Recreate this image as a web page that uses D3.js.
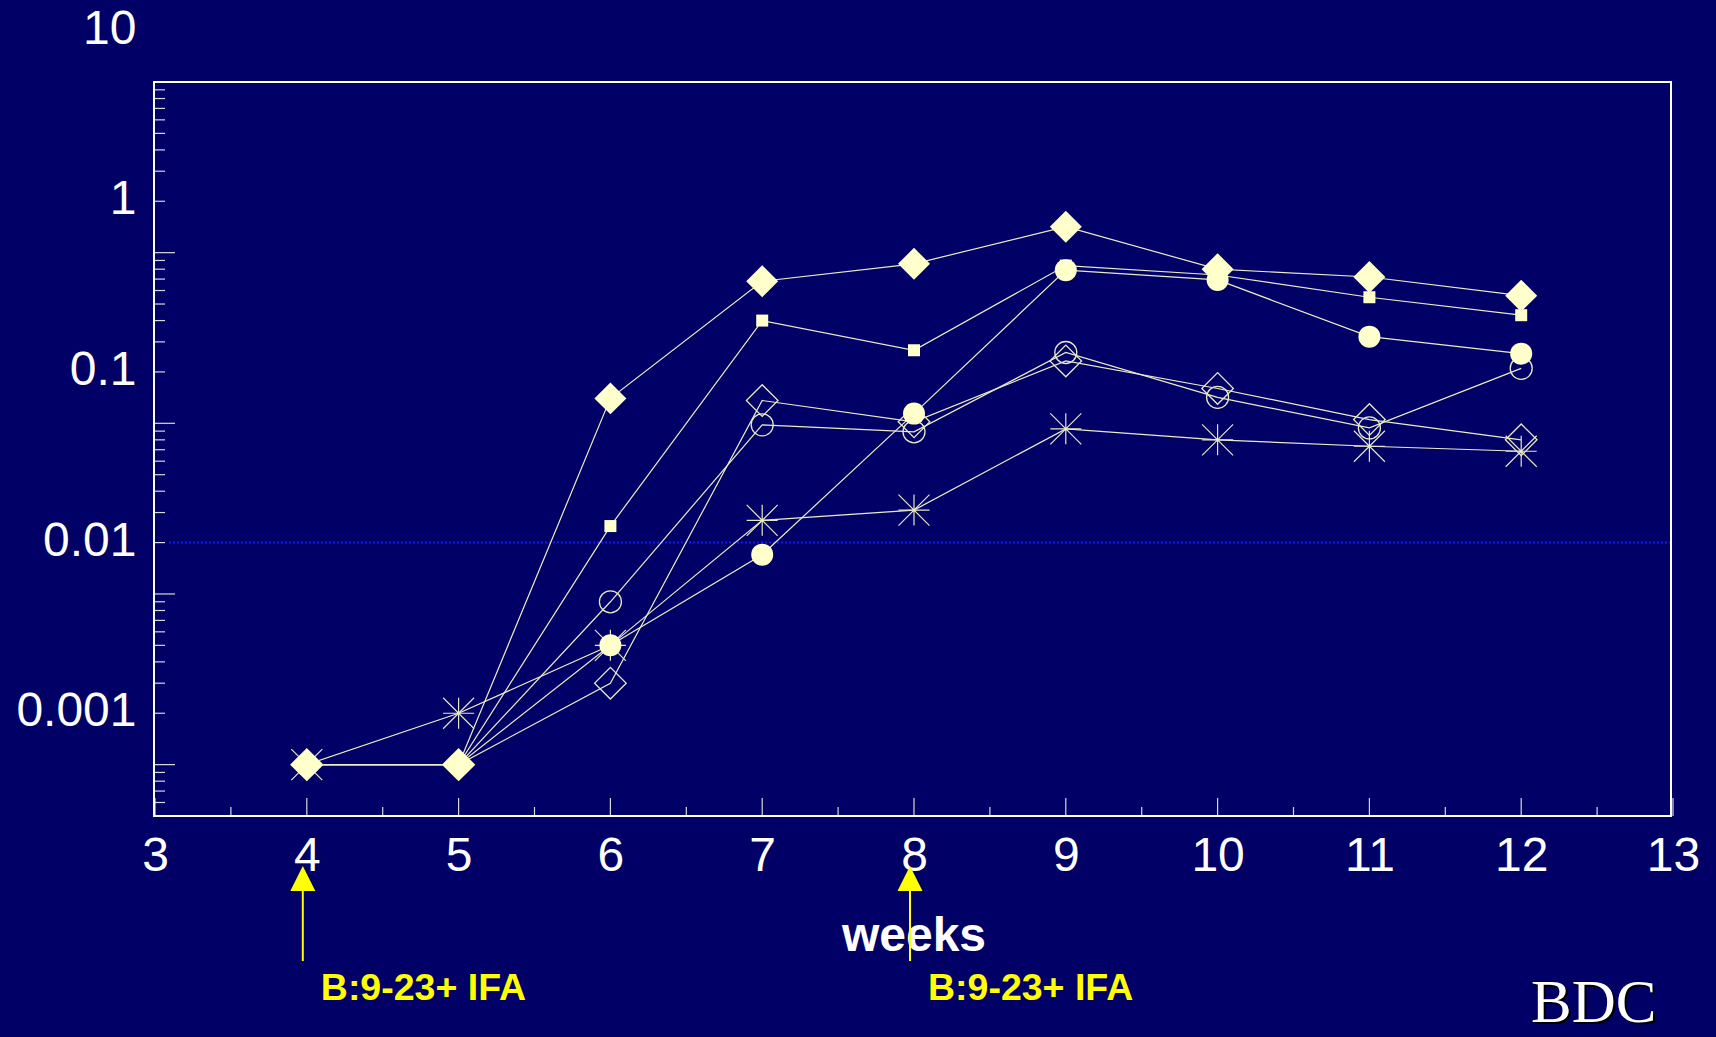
<!DOCTYPE html>
<html>
<head>
<meta charset="utf-8">
<script src="https://cdn.jsdelivr.net/npm/d3@7"></script>
<style>
  html, body { margin: 0; padding: 0; background: #000066; overflow: hidden; }
  svg { display: block; }
</style>
</head>
<body>
<svg id="chart" width="1716" height="1037"></svg>
<script>
// ---- data -------------------------------------------------------------
const weeks = [4, 5, 6, 7, 8, 9, 10, 11, 12];

const filledDiamond = [0.0005, 0.0005, 0.070, 0.34, 0.43, 0.71, 0.40, 0.36, 0.28];
const filledSquare  = [0.0005, 0.0005, 0.0125, 0.20, 0.134, 0.42, 0.37, 0.274, 0.215];
const filledCircle  = [0.0005, 0.0005, 0.0025, 0.0085, 0.057, 0.395, 0.346, 0.161, 0.128];
const openCircle    = [0.0005, 0.0005, 0.0045, 0.049, 0.0446, 0.130, 0.071, 0.047, 0.105];
const openDiamond   = [0.0005, 0.0005, 0.0015, 0.068, 0.051, 0.116, 0.080, 0.0526, 0.040];
const asterisk      = [0.0005, 0.0010, 0.0025, 0.0135, 0.0155, 0.0464, 0.040, 0.0367, 0.0343];

const xTickValues = [3, 4, 5, 6, 7, 8, 9, 10, 11, 12, 13];
const xTickLabels = ["3", "4", "5", "6", "7", "8", "9", "10", "11", "12", "13"];
const yTickValues = [10, 1, 0.1, 0.01, 0.001];
const yTickLabels = ["10", "1", "0.1", "0.01", "0.001"];
const yMinorMultipliers = [1, 1.5, 2, 2.5, 3, 3.5, 4, 4.5, 5];

const xTitle = "weeks";
const injectionWeeks = [4, 8];
const injectionLabels = ["B:9-23+ IFA", "B:9-23+ IFA"];
const referenceLevel = 0.01;
const credit = "BDC";

// ---- layout -----------------------------------------------------------
const W = 1716, H = 1037;
const plot = { left: 155, right: 1673, top: 82, bottom: 816 };
const SANS = "'Liberation Sans', Arial, Helvetica, sans-serif";
const SERIF = "'Liberation Serif', 'Times New Roman', Times, serif";
const BG = "#000066";
const MARK = "#FFFFCC";
const LINE = "#ECECC4";

const x = d3.scaleLinear().domain([3, 13]).range([plot.left, plot.right]);
const y = d3.scaleLog().domain([0.00025, 5]).range([plot.bottom, plot.top]);

const svg = d3.select("#chart");
svg.append("rect").attr("width", W).attr("height", H).attr("fill", BG);

// dotted reference level
svg.append("line")
  .attr("x1", plot.left + 14).attr("x2", plot.right - 2)
  .attr("y1", y(referenceLevel)).attr("y2", y(referenceLevel))
  .attr("stroke", "#1818F0").attr("stroke-width", 2)
  .attr("stroke-dasharray", "2 2");

// ---- ticks --------------------------------------------------------------
const tickG = svg.append("g").attr("stroke", "#D8D8D8").attr("stroke-width", 1.2);

// y ticks inside the left edge: short at each step, long at 5 x decade
const yTicks = [];
for (let e = -4; e <= 0; e++) {
  yMinorMultipliers.forEach(m => {
    const v = m * Math.pow(10, e);
    if (v > 0.00025 * 1.0001 && v < 5 * 0.9999) yTicks.push({ v, long: m === 5 });
  });
}
tickG.selectAll("line.yt").data(yTicks).join("line")
  .attr("class", "yt")
  .attr("x1", plot.left).attr("x2", d => plot.left + (d.long ? 20 : 10))
  .attr("y1", d => y(d.v)).attr("y2", d => y(d.v));

// x ticks inside the bottom edge: long at whole weeks, short at halves
const xTicks = [];
xTickValues.forEach((v, i) => {
  xTicks.push({ v, long: true });
  if (i < xTickValues.length - 1) xTicks.push({ v: v + 0.5, long: false });
});
tickG.selectAll("line.xt").data(xTicks).join("line")
  .attr("class", "xt")
  .attr("x1", d => x(d.v)).attr("x2", d => x(d.v))
  .attr("y1", plot.bottom).attr("y2", d => plot.bottom - (d.long ? 18 : 9));

// frame
svg.append("rect")
  .attr("x", plot.left - 1).attr("y", plot.top)
  .attr("width", plot.right - plot.left - 1).attr("height", plot.bottom - plot.top)
  .attr("fill", "none").attr("stroke", "#FFFFFF").attr("stroke-width", 2);

// ---- axis labels ------------------------------------------------------
const xAxis = d3.axisBottom(x)
  .tickValues(xTickValues)
  .tickFormat((d, i) => xTickLabels[i])
  .tickSize(0).tickPadding(21);
svg.append("g")
  .attr("transform", `translate(0,${plot.bottom})`)
  .call(xAxis)
  .call(g => g.select(".domain").remove())
  .attr("font-family", SANS).attr("font-size", 48).attr("color", "#FFFFFF");

const yAxis = d3.axisLeft(y)
  .tickValues(yTickValues)
  .tickFormat((d, i) => yTickLabels[i])
  .tickSize(0).tickPadding(18.5);
svg.append("g")
  .attr("transform", `translate(${plot.left},0)`)
  .call(yAxis)
  .call(g => g.select(".domain").remove())
  .attr("font-family", SANS).attr("font-size", 48).attr("color", "#FFFFFF")
  .call(g => g.selectAll("text").attr("dy", "0.26em"));

svg.append("text")
  .attr("x", (plot.left + plot.right) / 2).attr("y", 951)
  .attr("text-anchor", "middle")
  .attr("font-family", SANS).attr("font-weight", "bold").attr("font-size", 48)
  .attr("fill", "#FFFFFF")
  .text(xTitle);

// ---- series -----------------------------------------------------------
const series = [
  { name: "asterisk",      values: asterisk,      marker: "asterisk" },
  { name: "openDiamond",   values: openDiamond,   marker: "diamondOpen" },
  { name: "openCircle",    values: openCircle,    marker: "circleOpen" },
  { name: "filledSquare",  values: filledSquare,  marker: "square" },
  { name: "filledCircle",  values: filledCircle,  marker: "circleFilled" },
  { name: "filledDiamond", values: filledDiamond, marker: "diamondFilled" }
];
series.forEach(s => { s.points = weeks.map((w, i) => ({ w, v: s.values[i] })); });

const line = d3.line().x(d => x(d.w)).y(d => y(d.v));
svg.append("g").selectAll("path").data(series).join("path")
  .attr("d", s => line(s.points))
  .attr("fill", "none").attr("stroke", LINE).attr("stroke-width", 1.2);

const star = r => `M${-r},0L${r},0M0,${-r}L0,${r}M${-r},${-r}L${r},${r}M${-r},${r}L${r},${-r}`;
const diamondPath = d3.symbol(d3.symbolSquare, 512)();
const openDiamondPath = d3.symbol(d3.symbolSquare, 500)();
const squarePath = d3.symbol(d3.symbolSquare, 144)();

series.forEach(s => {
  const g = svg.append("g").attr("class", "markers " + s.name);
  const pts = g.selectAll("g").data(s.points).join("g")
    .attr("transform", d => `translate(${x(d.w)},${y(d.v)})`);
  switch (s.marker) {
    case "asterisk":
      pts.append("path").attr("d", star(15.5))
        .attr("fill", "none").attr("stroke", "#E6E6C2").attr("stroke-width", 1.2);
      break;
    case "diamondOpen":
      pts.append("path").attr("d", openDiamondPath).attr("transform", "rotate(45)")
        .attr("fill", "none").attr("stroke", "#E8E8C4").attr("stroke-width", 1.3);
      break;
    case "circleOpen":
      pts.append("circle").attr("r", 11)
        .attr("fill", "none").attr("stroke", "#E8E8C4").attr("stroke-width", 1.3);
      break;
    case "square":
      pts.append("path").attr("d", squarePath).attr("fill", MARK);
      break;
    case "circleFilled":
      pts.append("circle").attr("r", 11).attr("fill", MARK);
      break;
    case "diamondFilled":
      pts.append("path").attr("d", diamondPath).attr("transform", "rotate(45)")
        .attr("fill", MARK);
      break;
  }
});

// ---- injection arrows -------------------------------------------------
const arrows = svg.append("g").selectAll("g")
  .data(injectionWeeks.map((w, i) => ({ w, label: injectionLabels[i] })))
  .join("g");
arrows.append("line")
  .attr("x1", d => x(d.w) - 4).attr("x2", d => x(d.w) - 4)
  .attr("y1", 889).attr("y2", 961)
  .attr("stroke", "#FFFF00").attr("stroke-width", 2);
arrows.append("path")
  .attr("d", d => {
    const cx = x(d.w) - 4;
    return `M${cx},866L${cx - 12.5},891L${cx + 12.5},891Z`;
  })
  .attr("fill", "#FFFF00");
arrows.append("text")
  .attr("x", d => x(d.w) + 14).attr("y", 1000)
  .attr("font-family", SANS).attr("font-weight", "bold").attr("font-size", 37.5)
  .attr("fill", "#FFFF00")
  .text(d => d.label);

// ---- credit -----------------------------------------------------------
const creditG = svg.append("g").attr("font-family", SERIF).attr("font-size", 61);
creditG.append("text").attr("x", 1533).attr("y", 1024).attr("fill", "#000000").text(credit);
creditG.append("text").attr("x", 1531).attr("y", 1022).attr("fill", "#FFFFFF").text(credit);
</script>
</body>
</html>
